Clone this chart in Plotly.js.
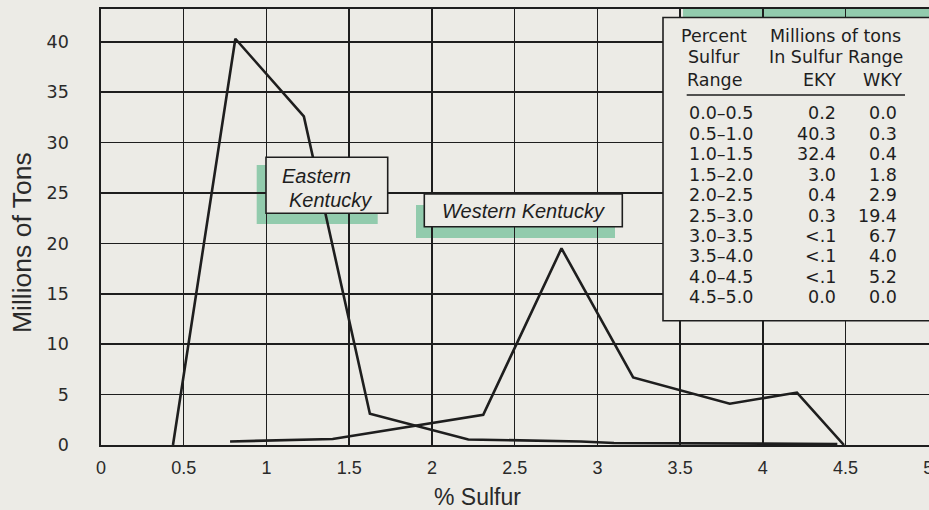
<!DOCTYPE html>
<html><head><meta charset="utf-8">
<script src="https://cdn.plot.ly/plotly-3.0.1.min.js"></script>
<style>html,body{margin:0;padding:0;background:#ecebe6;}</style>
</head><body><div id="chart" style="width:929px;height:510px;"></div>
<script>
// ---- data ----
const ekyX = [0.435, 0.812, 1.226, 1.625, 2.22, 2.45, 2.72, 2.90, 3.10, 4.45];
const ekyY = [0.0, 40.3, 32.6, 3.1, 0.55, 0.5, 0.4, 0.35, 0.2, 0.1];
const wkyX = [0.78, 1.09, 1.40, 2.31, 2.783, 3.216, 3.80, 4.206, 4.49];
const wkyY = [0.35, 0.5, 0.6, 3.0, 19.5, 6.7, 4.1, 5.2, 0.0];

const tableRanges = ['0.0–0.5','0.5–1.0','1.0–1.5','1.5–2.0','2.0–2.5','2.5–3.0','3.0–3.5','3.5–4.0','4.0–4.5','4.5–5.0'];
const tableEky = ['0.2','40.3','32.4','3.0','0.4','0.3','<.1','<.1','<.1','0.0'];
const tableWky = ['0.0','0.3','0.4','1.8','2.9','19.4','6.7','4.0','5.2','0.0'];
const tableHeadLeft = ['Percent','Sulfur','Range'];
const tableHeadRight = ['Millions of tons','In Sulfur Range'];
const tableHeadCols = ['EKY','WKY'];

const xTickVals = [0,0.5,1,1.5,2,2.5,3,3.5,4,4.5,5];
const xTickText = ['0','0.5','1','1.5','2','2.5','3','3.5','4','4.5','5'];
const yTickVals = [0,5,10,15,20,25,30,35,40];
const yTickText = ['0','5','10','15','20','25','30','35','40'];

const xTitle = '% Sulfur';
const yTitle = 'Millions of Tons';
const ekyLabel = ['Eastern','Kentucky'];
const wkyLabel = 'Western Kentucky';

// ---- layout geometry ----
const W = 929, H = 510;
const M = {l: 101, r: 0, t: 9, b: 65};
const PW = W - M.l - M.r, PH = H - M.t - M.b;
const px = v => (v - M.l) / PW;          // pixel x -> paper
const py = v => (H - M.b - v) / PH;      // pixel y -> paper

const BG = '#ecebe6';
const INK = '#1e1e1e';
const GREEN = '#92cbad';

const traces = [
  {x: ekyX, y: ekyY, mode: 'lines', line: {color: INK, width: 2.6}, hoverinfo: 'skip', cliponaxis: false},
  {x: wkyX, y: wkyY, mode: 'lines', line: {color: INK, width: 2.6}, hoverinfo: 'skip', cliponaxis: false}
];

function rect(x0, y0, x1, y1, fill, line, layer) {
  return {type: 'rect', xref: 'paper', yref: 'paper',
    x0: px(x0), x1: px(x1), y0: py(y1), y1: py(y0),
    fillcolor: fill, line: line ? {color: INK, width: 1.6} : {width: 0}, layer: layer};
}

const shapes = [
  rect(683, 8.5, 950, 311, GREEN, false, 'below'),
  rect(256.7, 165, 377.7, 224, GREEN, false, 'below'),
  rect(416, 205, 615, 238, GREEN, false, 'below'),
  rect(663, 17.5, 950, 320.7, BG, true, 'above'),
  rect(266, 157.3, 387.7, 213.3, BG, true, 'above'),
  rect(424.3, 194, 622.3, 226.7, BG, true, 'above'),
  {type: 'line', xref: 'paper', yref: 'paper', x0: px(686.7), x1: px(905), y0: py(95), y1: py(95),
   line: {color: INK, width: 1.5}, layer: 'above'}
];

const TF = {family: 'DejaVu Sans, sans-serif', size: 17.5, color: INK};
const ann = [];
function txt(t, x, y, xa, font, extra) {
  ann.push(Object.assign({text: t, xref: 'paper', yref: 'paper', x: px(x), y: py(y),
    xanchor: xa, yanchor: 'middle', showarrow: false, font: font}, extra || {}));
}
const headY = [35.5, 57.5, 79.5];
tableHeadLeft.forEach((t, i) => txt(t, 714, headY[i], 'center', TF));
tableHeadRight.forEach((t, i) => txt(t, 835.5, headY[i], 'center', TF));
txt(tableHeadCols[0], 837.5, headY[2], 'right', TF);
txt(tableHeadCols[1], 903.5, headY[2], 'right', TF);
tableRanges.forEach((t, i) => {
  const y = 113.5 + i * 20.4;
  txt(t, 686.5, y, 'left', TF);
  txt(tableEky[i], 837.5, y, 'right', TF);
  txt(tableWky[i], 898.5, y, 'right', TF);
});

const LF = {family: 'Liberation Sans, Arial, sans-serif', size: 20, color: INK, style: 'italic'};
txt(ekyLabel[0], 280, 176, 'left', LF);
txt(ekyLabel[1], 286.5, 199.5, 'left', LF);
txt(wkyLabel, 523.3, 210.5, 'center', LF);

txt(xTitle, 477, 497, 'center', {family: 'Liberation Sans, Arial, sans-serif', size: 23, color: '#2a2a2a'});
txt(yTitle, 22, 243, 'center', {family: 'Liberation Sans, Arial, sans-serif', size: 26.5, color: '#2a2a2a'}, {textangle: -90});

const layout = {
  width: W, height: H,
  margin: M,
  paper_bgcolor: BG,
  plot_bgcolor: 'rgba(0,0,0,0)',
  showlegend: false,
  xaxis: {
    range: [0, 5.004], tickvals: xTickVals, ticktext: xTickText,
    showgrid: true, gridcolor: INK, gridwidth: 1.5,
    showline: true, mirror: true, linecolor: INK, linewidth: 1.6,
    zeroline: false, ticks: '', ticklabelstandoff: 6, ticklabeloverflow: 'allow',
    tickfont: {family: 'Liberation Sans Narrow, Liberation Sans, Arial, sans-serif', size: 18, color: '#2a2a2a'}
  },
  yaxis: {
    range: [0, 43.25], tickvals: yTickVals, ticktext: yTickText,
    showgrid: true, gridcolor: INK, gridwidth: 1.5,
    showline: true, mirror: true, linecolor: INK, linewidth: 1.6,
    zeroline: false, ticks: '', ticklabelstandoff: 27,
    tickfont: {family: 'DejaVu Sans, sans-serif', size: 17.5, color: '#2a2a2a'}
  },
  shapes: shapes,
  annotations: ann
};

Plotly.newPlot('chart', traces, layout, {staticPlot: true, displayModeBar: false});
</script></body></html>
